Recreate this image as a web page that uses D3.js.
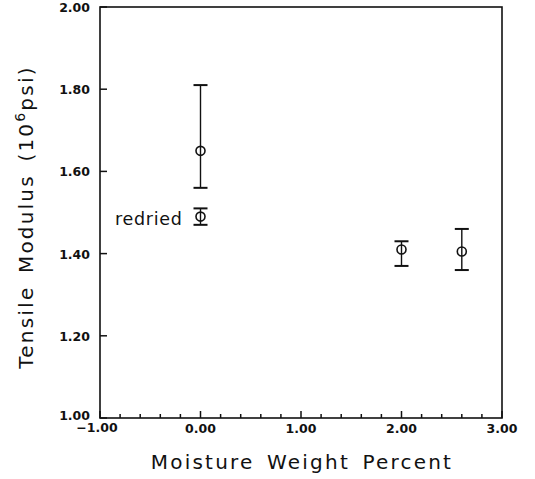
<!DOCTYPE html>
<html>
<head>
<meta charset="utf-8">
<script src="https://cdn.jsdelivr.net/npm/d3@7"></script>
<style>
  body { margin: 0; background: #fff; }
  svg { display: block; }
</style>
</head>
<body>
<svg id="chart" width="535" height="479"></svg>
<script>
// data
const moisture = [0.0, 0.0, 2.0, 2.6];
const modulus  = [1.65, 1.49, 1.41, 1.405];
const errLow   = [1.56, 1.47, 1.37, 1.36];
const errHigh  = [1.81, 1.51, 1.43, 1.46];
const labels   = ["", "redried", "", ""];

const xTicks = [-1, 0, 1, 2, 3];
const yTicks = [1.0, 1.2, 1.4, 1.6, 1.8, 2.0];

const svg = d3.select("#chart");
const plotL = 100, plotR = 502, plotT = 7, plotB = 418;

const x = d3.scaleLinear().domain([-1, 3]).range([plotL, plotR]);
const y = d3.scaleLinear().domain([1, 2]).range([plotB, plotT]);

const ink = "#111";
const font = "'DejaVu Sans', 'Liberation Sans', sans-serif";

// frame
svg.append("rect")
  .attr("x", plotL).attr("y", plotT)
  .attr("width", plotR - plotL).attr("height", plotB - plotT)
  .attr("fill", "none").attr("stroke", ink).attr("stroke-width", 1.6);

// x axis ticks (inward), minor every 0.2
const xMinor = d3.range(-1, 3.0001, 0.2);
svg.append("g").selectAll("line")
  .data(xMinor)
  .join("line")
  .attr("x1", d => x(d)).attr("x2", d => x(d))
  .attr("y1", plotB)
  .attr("y2", d => Math.abs(d - Math.round(d)) < 1e-6 ? plotB - 7 : plotB - 4)
  .attr("stroke", ink).attr("stroke-width", 1.5);

svg.append("g").selectAll("text")
  .data(xTicks)
  .join("text")
  .attr("x", d => x(d) + (d === -1 ? -3 : 0))
  .attr("y", d => plotB + (d === -1 ? 14 : 15))
  .attr("text-anchor", "middle")
  .attr("font-family", font)
  .attr("font-weight", "bold")
  .attr("font-size", 12.5)
  .attr("fill", ink)
  .text(d => (d < 0 ? "\u2212" : "") + Math.abs(d).toFixed(2));

// y axis ticks (inward), majors only
svg.append("g").selectAll("line")
  .data(yTicks)
  .join("line")
  .attr("x1", plotL).attr("x2", plotL + 7)
  .attr("y1", d => y(d)).attr("y2", d => y(d))
  .attr("stroke", ink).attr("stroke-width", 1.5);

svg.append("g").selectAll("text")
  .data(yTicks)
  .join("text")
  .attr("x", plotL - 10)
  .attr("y", d => y(d) + (d === 1 ? 2 : 5))
  .attr("text-anchor", "end")
  .attr("font-family", font)
  .attr("font-weight", "bold")
  .attr("font-size", 12.5)
  .attr("fill", ink)
  .text(d => d.toFixed(2));

// error bars
const pts = moisture.map((m, i) => ({ m, v: modulus[i], lo: errLow[i], hi: errHigh[i], label: labels[i] }));
const capW = 7;
const g = svg.append("g");
g.selectAll("line.bar")
  .data(pts)
  .join("line")
  .attr("class", "bar")
  .attr("x1", d => x(d.m)).attr("x2", d => x(d.m))
  .attr("y1", d => y(d.lo)).attr("y2", d => y(d.hi))
  .attr("stroke", ink).attr("stroke-width", 1.4);

["lo", "hi"].forEach(k => {
  g.selectAll("line.cap-" + k)
    .data(pts)
    .join("line")
    .attr("class", "cap-" + k)
    .attr("x1", d => x(d.m) - capW).attr("x2", d => x(d.m) + capW)
    .attr("y1", d => y(d[k])).attr("y2", d => y(d[k]))
    .attr("stroke", ink).attr("stroke-width", 2);
});

g.selectAll("circle")
  .data(pts)
  .join("circle")
  .attr("cx", d => x(d.m)).attr("cy", d => y(d.v))
  .attr("r", 4.5)
  .attr("fill", "none")
  .attr("stroke", ink).attr("stroke-width", 1.6);

g.selectAll("text.lbl")
  .data(pts.filter(d => d.label))
  .join("text")
  .attr("class", "lbl")
  .attr("x", d => x(d.m) - 18)
  .attr("y", d => y(d.v) + 8)
  .attr("text-anchor", "end")
  .attr("font-family", font)
  .attr("font-size", 17.5)
  .attr("letter-spacing", 0.7)
  .attr("fill", ink)
  .text(d => d.label);

// axis titles
svg.append("text")
  .attr("x", 302)
  .attr("y", 469)
  .attr("text-anchor", "middle")
  .attr("font-family", font)
  .attr("font-size", 20)
  .attr("letter-spacing", 2.2)
  .attr("word-spacing", 4)
  .attr("fill", ink)
  .text("Moisture Weight Percent");

const yt = svg.append("text")
  .attr("transform", "translate(33,217) rotate(-90)")
  .attr("text-anchor", "middle")
  .attr("font-family", font)
  .attr("font-size", 20)
  .attr("letter-spacing", 2.2)
  .attr("word-spacing", 4)
  .attr("fill", ink);
yt.append("tspan").text("Tensile Modulus (10");
yt.append("tspan").attr("dy", -8).attr("font-size", 14).text("6");
yt.append("tspan").attr("dy", 8).text("psi)");
</script>
</body>
</html>
